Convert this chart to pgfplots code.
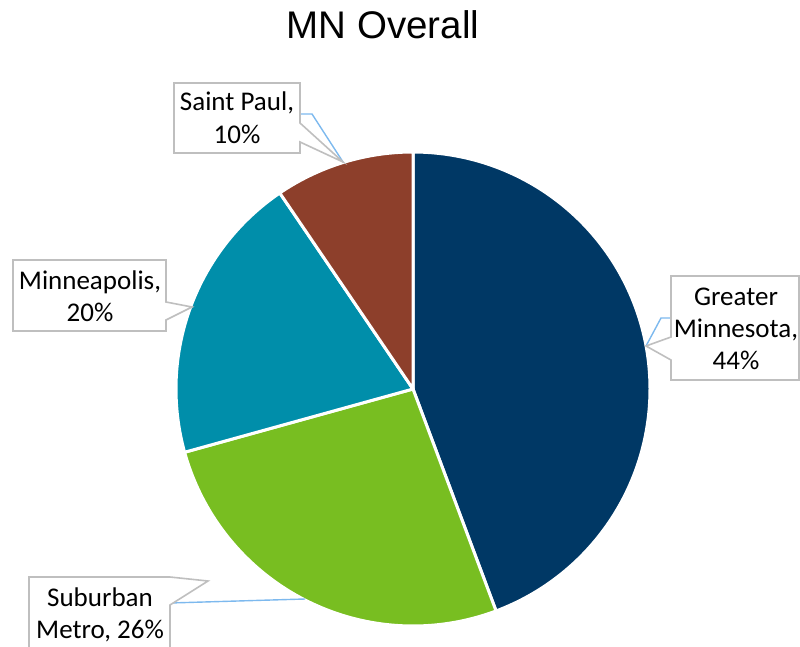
\documentclass[border=0pt]{standalone}
\usepackage{fontspec}
\setmainfont{Carlito}
\newfontfamily\titlefont{Liberation Sans}
\usepackage{pgfplots}
\usepackage{pgfplotstable}
\pgfplotsset{compat=1.18}

\definecolor{mnnavy}{RGB}{0,56,101}
\definecolor{mngreen}{RGB}{120,190,33}
\definecolor{mnteal}{RGB}{0,142,170}
\definecolor{mnbrown}{RGB}{141,63,43}
\definecolor{boxgray}{RGB}{191,191,191}
\definecolor{leader}{RGB}{125,185,238}

% share of each region, in percent (clockwise from 12 o'clock)
\pgfplotstableread{
region value
Greater 44.3
Suburban 26.4
Minneapolis 19.8
SaintPaul 9.5
}\piedata

\begin{document}
\begin{tikzpicture}
\pgfplotstablegetelem{0}{value}\of\piedata \pgfmathsetmacro\va{\pgfplotsretval}
\pgfplotstablegetelem{1}{value}\of\piedata \pgfmathsetmacro\vb{\pgfplotsretval}
\pgfplotstablegetelem{2}{value}\of\piedata \pgfmathsetmacro\vc{\pgfplotsretval}
\pgfplotstablegetelem{3}{value}\of\piedata \pgfmathsetmacro\vd{\pgfplotsretval}
\pgfmathsetmacro\aA{-90}
\pgfmathsetmacro\aB{\aA+3.6*\va}
\pgfmathsetmacro\aC{\aB+3.6*\vb}
\pgfmathsetmacro\aD{\aC+3.6*\vc}
\pgfmathsetmacro\aE{\aD+3.6*\vd}
\begin{axis}[width=800pt,height=647pt,scale only axis,
  xmin=0,xmax=800,ymin=0,ymax=647,y dir=reverse,
  hide axis,clip=false]
\coordinate (bbA) at (axis cs:0,0);
\coordinate (bbB) at (axis cs:800,647);
% slices
\addplot[fill=mnnavy,draw=white,line width=3pt,line join=round,domain=\aA:\aB,samples=150]
  ({413+237*cos(x)},{389+237*sin(x)}) -- (axis cs:413,389) -- cycle;
\addplot[fill=mngreen,draw=white,line width=3pt,line join=round,domain=\aB:\aC,samples=100]
  ({413+237*cos(x)},{389+237*sin(x)}) -- (axis cs:413,389) -- cycle;
\addplot[fill=mnteal,draw=white,line width=3pt,line join=round,domain=\aC:\aD,samples=80]
  ({413+237*cos(x)},{389+237*sin(x)}) -- (axis cs:413,389) -- cycle;
\addplot[fill=mnbrown,draw=white,line width=3pt,line join=round,domain=\aD:\aE,samples=50]
  ({413+237*cos(x)},{389+237*sin(x)}) -- (axis cs:413,389) -- cycle;

% leader lines
\draw[leader,line width=1.4pt] (axis cs:300,114) -- (axis cs:312,114) -- (axis cs:343,162);
\draw[leader,line width=1.4pt] (axis cs:646,346) -- (axis cs:661,318) -- (axis cs:671,318);
\draw[leader,line width=1.4pt] (axis cs:170,603) -- (axis cs:305,599);

% callouts
\draw[boxgray,fill=white,line width=1.6pt] (axis cs:174,83) -- (axis cs:300,83) -- (axis cs:300,123)
  -- (axis cs:343,162) -- (axis cs:300,142) -- (axis cs:300,153) -- (axis cs:174,153) -- cycle;
\draw[boxgray,fill=white,line width=1.6pt] (axis cs:13,260) -- (axis cs:166,260) -- (axis cs:166,302)
  -- (axis cs:192,307) -- (axis cs:166,320) -- (axis cs:166,331) -- (axis cs:13,331) -- cycle;
\draw[boxgray,fill=white,line width=1.6pt] (axis cs:671,276) -- (axis cs:799,276) -- (axis cs:799,380)
  -- (axis cs:671,380) -- (axis cs:671,360) -- (axis cs:646,346) -- (axis cs:671,337) -- cycle;
\draw[boxgray,fill=white,line width=1.6pt] (axis cs:29,577) -- (axis cs:170,577) -- (axis cs:208,581)
  -- (axis cs:170,605) -- (axis cs:170,690) -- (axis cs:29,690) -- cycle;

% label text
\begin{scope}[every node/.style={anchor=base,inner sep=0pt,font=\fontsize{27}{32}\selectfont}]
\node at (axis cs:237,111) {Saint Paul,};
\node at (axis cs:237,143) {10\%};
\node at (axis cs:90,289) {Minneapolis,};
\node at (axis cs:90,321) {20\%};
\node at (axis cs:736,305) {Greater};
\node at (axis cs:736,337) {Minnesota,};
\node at (axis cs:736,369) {44\%};
\node at (axis cs:100,606) {Suburban};
\node at (axis cs:100,638) {Metro, 26\%};
\end{scope}

% title
\node[anchor=base,inner sep=0pt,font=\titlefont\fontsize{38.5}{42}\selectfont] at (axis cs:383,39) {MN Overall};
\end{axis}
\pgfresetboundingbox
\path[use as bounding box] (bbA) rectangle (bbB);
\end{tikzpicture}
\end{document}
